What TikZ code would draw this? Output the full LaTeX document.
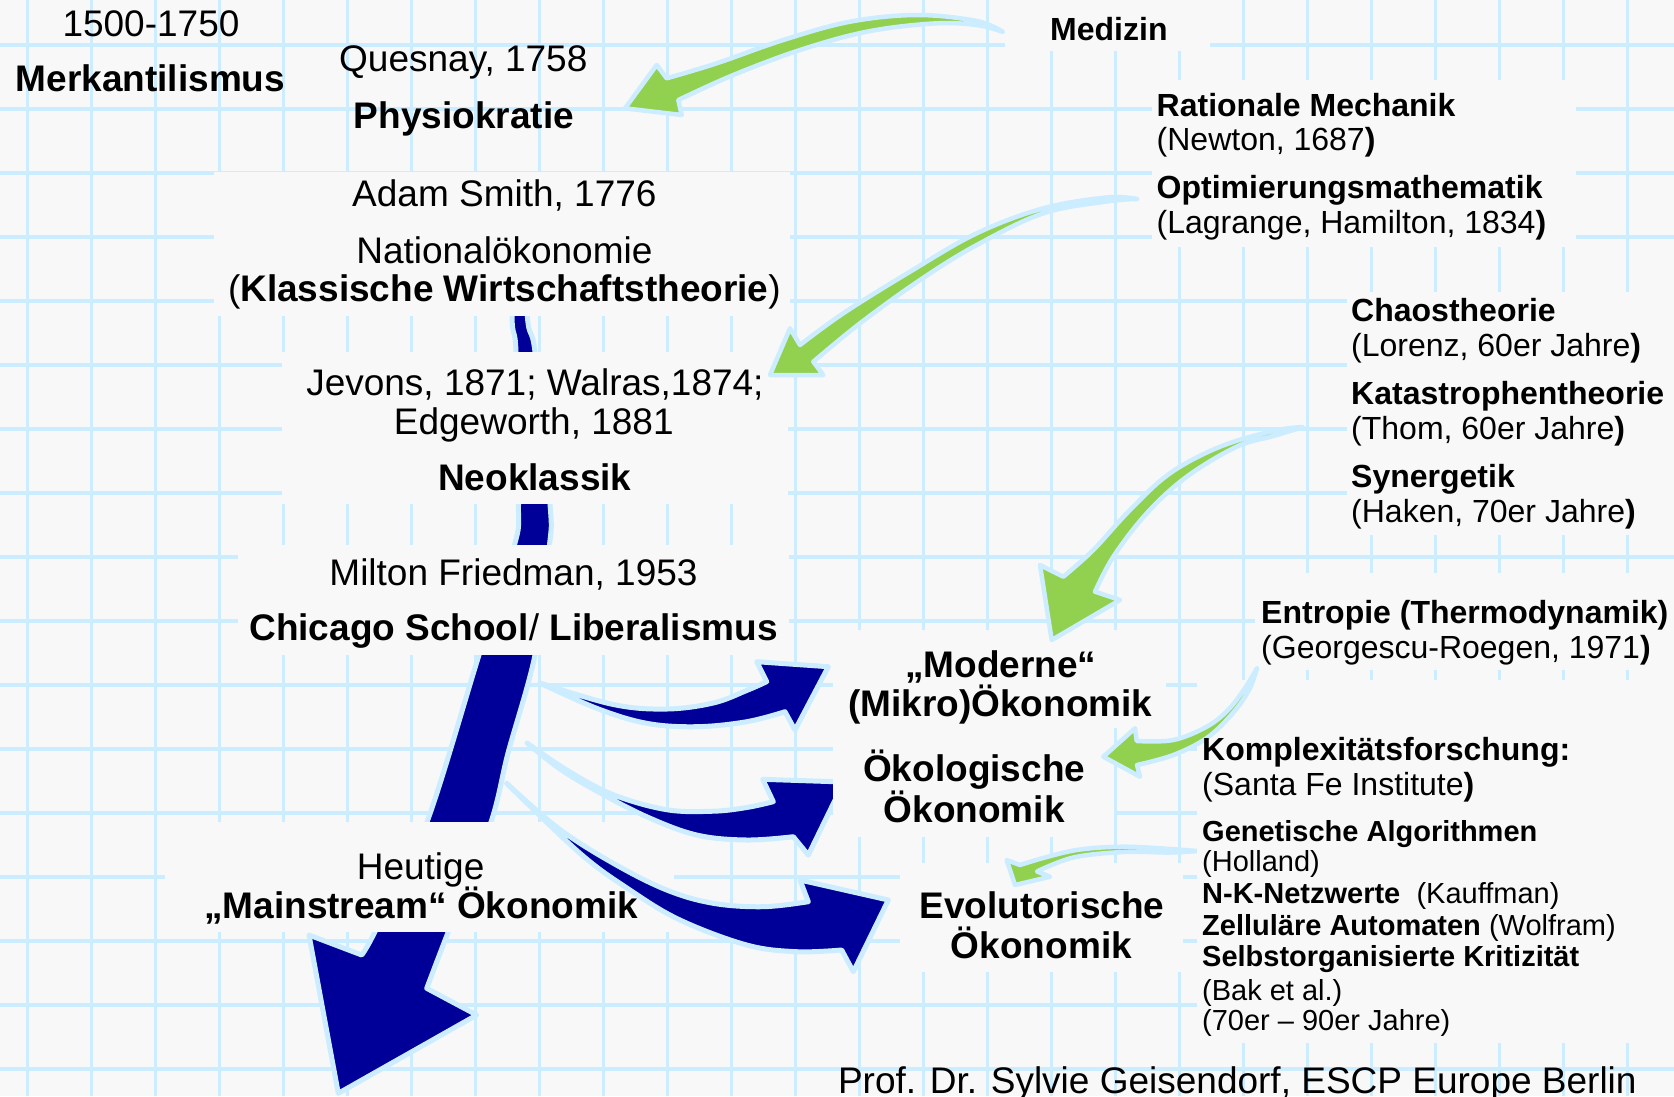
\documentclass[tikz,border=0pt]{standalone}
\usepackage{fontspec}
\setmainfont{Liberation Sans}
\definecolor{bgc}{RGB}{248,248,248}
\definecolor{gridc}{RGB}{204,236,255}
\definecolor{outl}{RGB}{204,236,255}
\definecolor{navyc}{RGB}{0,0,153}
\definecolor{greenc}{RGB}{146,208,80}
\tikzset{
  gridl/.style={draw=gridc, line width=3.3pt},
  maskbox/.style={fill=bgc},
  barrow/.style={fill=navyc, draw=outl, line width=5pt, line join=round},
  garrow/.style={fill=greenc, draw=outl, line width=4.5pt, line join=round},
  tmain/.style={inner sep=0pt, anchor=base, font=\fontsize{37}{40}\selectfont},
  tside/.style={inner sep=0pt, anchor=base west, font=\fontsize{32}{35}\selectfont},
  tlist/.style={inner sep=0pt, anchor=base west, font=\fontsize{29}{31}\selectfont},
}
\begin{document}
\begin{tikzpicture}[x=1pt,y=-1pt]
\useasboundingbox (0,0) rectangle (1674,1096);
\fill[bgc] (0,0) rectangle (1674,1096);
% grid
\foreach \i in {0,...,25} \draw[gridl] ({27.6+64*\i},0) -- ({27.6+64*\i},1096);
\foreach \j in {0,...,16} \draw[gridl] (0,{45+64*\j}) -- (1674,{45+64*\j});

% main trunk
\filldraw[barrow] plot[smooth, tension=0.5] coordinates {(513,180) (512,316) (516,352) (518.5,504) (514.5,545) (479,655) (427,822) (375,931.7) (361.7,955)}
  -- (309,935) -- (338.3,1093.3) -- (476.7,1015) --
  plot[smooth, tension=0.5] coordinates {(426.7,988.3) (448.3,931.7) (491,822) (508,753) (535,655) (549.5,545) (550,504) (535,352) (527.3,316) (521,180)} -- cycle;

% masks left column
\fill[maskbox] (213.5,172) rectangle (790,316);
\fill[maskbox] (282,352) rectangle (788,504);
\fill[maskbox] (238,545) rectangle (789,655);
\fill[maskbox] (165,822) rectangle (674,932);

% blue curved arrows
\filldraw[barrow] plot[smooth, tension=0.6] coordinates {(540,683) (613.3,704.5) (666.7,709) (713.3,703) (746.7,690.5) (766.7,681.7)}
  -- (756.7,661.7) -- (828.3,666.7) -- (795,730) --
  plot[smooth, tension=0.6] coordinates {(785,711.7) (746.7,721.7) (696.7,726.7) (646.7,723.3) (596.7,708.3) (540,683)} -- cycle;
\filldraw[barrow] plot[smooth, tension=0.6] coordinates {(527,743) (568.3,771) (613.3,794.7) (666.7,809.7) (713.3,811.2) (746.7,807.5) (773.3,801.7)}
  -- (762.7,779.3) -- (843.8,782) -- (808.3,855) --
  plot[smooth, tension=0.6] coordinates {(793.3,836.7) (746.7,840) (696.7,835) (646.7,816.7) (596.7,791) (560,769) (527,743)} -- cycle;
\filldraw[barrow] plot[smooth, tension=0.6] coordinates {(506.7,783.3) (558.3,828.3) (613.3,863.3) (666.7,890) (713.3,903.3) (763.3,906.7) (808.3,901.7)}
  -- (800,880) -- (888.3,900) -- (853.3,971.7) --
  plot[smooth, tension=0.6] coordinates {(841.7,950) (796.7,951.7) (746.7,945) (680,920) (630,890) (580,853.3) (506.7,783.3)} -- cycle;

% masks middle
\fill[maskbox] (833,630) rectangle (1166,728);
\fill[maskbox] (833,728) rectangle (1114,836.7);
\fill[maskbox] (900,863) rectangle (1183,972);

% green arrows (below right-hand boxes)
\filldraw[garrow] plot[smooth, tension=0.6] coordinates {(1003,32) (976.7,21) (916.7,15) (850,21.7) (783.3,40) (716.7,63.3) (666.7,78.3)}
  -- (656.7,65) -- (625,108.3) -- (681.7,115) --
  plot[smooth, tension=0.6] coordinates {(678.3,100) (733.3,75) (800,50) (866.7,31.7) (933.3,23.5) (976.7,25) (1003,32)} -- cycle;
\filldraw[garrow] plot[smooth, tension=0.6] coordinates {(1137,199) (1106.7,197.5) (1043.3,208.3) (976.7,233.3) (910,271.7) (843.3,313.3) (800,345)}
  -- (790,328.3) -- (770,375) -- (823.3,375) --
  plot[smooth, tension=0.6] coordinates {(813.3,361.7) (860,323.3) (920,280) (976.7,245) (1043.3,213.3) (1106.7,201.5) (1137,199)} -- cycle;
\filldraw[garrow] plot[smooth, tension=0.6] coordinates {(1303,427) (1273.3,431) (1220,446.7) (1170,473.3) (1130,510) (1093.3,550) (1063.3,576.7)}
  -- (1040,565) -- (1051.7,640) -- (1120,600) --
  plot[smooth, tension=0.6] coordinates {(1095,591.7) (1113.3,556.7) (1146.7,513.3) (1186.7,476.7) (1236.7,446.7) (1273.3,436) (1303,427)} -- cycle;
\filldraw[garrow] plot[smooth, tension=0.6] coordinates {(1197,851) (1170,849) (1123.3,846.7) (1080,849.5) (1046.7,857) (1020,865)}
  -- (1006.7,860) -- (1015,885) -- (1050,876.7) --
  plot[smooth, tension=0.6] coordinates {(1037,871.5) (1073.3,857.5) (1123.3,852) (1170,852.5) (1197,851)} -- cycle;

% masks right
\fill[maskbox] (1005,0) rectangle (1210,51);
\fill[maskbox] (1152,80) rectangle (1576,247);
\fill[maskbox] (1347,292) rectangle (1674,535);
\fill[maskbox] (1255,573) rectangle (1674,670);
\fill[maskbox] (1197,680) rectangle (1674,1043);

% green arrow from Entropie (above the boxes)
\filldraw[garrow] plot[smooth, tension=0.6] coordinates {(1257,668) (1245,688) (1228,710) (1206.7,726.7) (1173.3,740) (1136.7,741)}
  -- (1135,728.3) -- (1103.3,756.7) -- (1140,776.7) --
  plot[smooth, tension=0.6] coordinates {(1137,765) (1173.3,755) (1206.7,738) (1232,714) (1249,690) (1257,668)} -- cycle;

% left column texts
\node[tmain] (t1500) at (151,36) {1500-1750};
\node[tmain] (tmerk) at (150.5,91.7) {\textbf{Merkantilismus}};
\node[tmain] (tques) at (463.3,71.7) {Quesnay, 1758};
\node[tmain] (tphys) at (463.9,128.3) {\textbf{Physiokratie}};
\node[tmain] (tsmith) at (504.4,206.7) {Adam Smith, 1776};
\node[tmain] (tnat) at (504.4,263.3) {Nationalökonomie};
\node[tmain] (tklass) at (504.4,301.7) {(\textbf{Klassische Wirtschaftstheorie})};
\node[tmain] (tjev) at (534.9,395) {Jevons, 1871; Walras,1874;};
\node[tmain] (tedge) at (533.8,434.3) {Edgeworth, 1881};
\node[tmain] (tneo) at (534.9,490.7) {\textbf{Neoklassik}};
\node[tmain] (tmilt) at (513.5,585) {Milton Friedman, 1953};
\node[tmain] (tchic) at (513.5,640.7) {\textbf{Chicago School}/\textbf{ Liberalismus}};
\node[tmain] (theut) at (420.6,879.3) {Heutige};
\node[tmain] (tmains) at (421.2,918.3) {\textbf{„Mainstream“ Ökonomik}};
\node[tmain] (tmod1) at (1000.9,677) {\textbf{„Moderne“}};
\node[tmain] (tmod2) at (1000.3,716) {\textbf{(Mikro)Ökonomik}};
\node[tmain] (toek1) at (974.2,781.7) {\textbf{Ökologische}};
\node[tmain] (toek2) at (974.2,822) {\textbf{Ökonomik}};
\node[tmain] (tevo1) at (1042,918.3) {\textbf{Evolutorische}};
\node[tmain] (tevo2) at (1041.4,958) {\textbf{Ökonomik}};
\node[tmain] (tprof) at (1237.3,1093) {Prof. Dr. Sylvie Geisendorf, ESCP Europe Berlin};

% right side texts
\node[tside] (tmed) at (1050,40) {\textbf{Medizin}};
\node[tside] (trat) at (1156.5,116) {\textbf{Rationale Mechanik}};
\node[tside] (tnewt) at (1156.5,150.7) {(Newton, 1687\textbf{)}};
\node[tside] (topt) at (1156.5,198.3) {\textbf{Optimierungsmathematik}};
\node[tside] (tlag) at (1156.5,233.3) {(Lagrange, Hamilton, 1834\textbf{)}};
\node[tside] (tchaos) at (1351,321.7) {\textbf{Chaostheorie}};
\node[tside] (tlor) at (1351,356) {(Lorenz, 60er Jahre\textbf{)}};
\node[tside] (tkat) at (1351,404) {\textbf{Katastrophentheorie}};
\node[tside] (tthom) at (1351,439) {(Thom, 60er Jahre\textbf{)}};
\node[tside] (tsyn) at (1351,487) {\textbf{Synergetik}};
\node[tside] (thak) at (1351,522.5) {(Haken, 70er Jahre\textbf{)}};
\node[tside] (tent) at (1261,623.3) {\textbf{Entropie (Thermodynamik)}};
\node[tside] (tgeo) at (1261,658.3) {(Georgescu-Roegen, 1971\textbf{)}};
\node[tside] (tkom) at (1202,760) {\textbf{Komplexitätsforschung:}};
\node[tside] (tsfi) at (1202,795) {(Santa Fe Institute\textbf{)}};
\node[tlist] (tgen) at (1202,841.7) {\textbf{Genetische Algorithmen}};
\node[tlist] (thol) at (1202,871.7) {(Holland)};
\node[tlist] (tnk) at (1202,903.3) {\textbf{N-K-Netzwerte}\ \ (Kauffman)};
\node[tlist] (tzell) at (1202,935) {\textbf{Zelluläre Automaten} (Wolfram)};
\node[tlist] (tself) at (1202,966.7) {\textbf{Selbstorganisierte Kritizität}};
\node[tlist] (tbak) at (1202,1000) {(Bak et al.)};
\node[tlist] (t7090) at (1202,1030) {(70er – 90er Jahre)};
\end{tikzpicture}
\end{document}
